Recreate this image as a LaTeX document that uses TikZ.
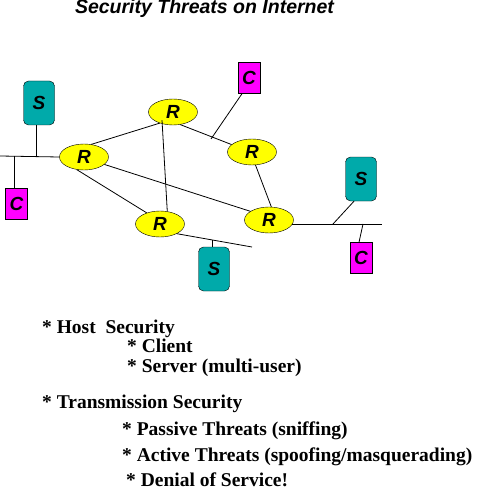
\documentclass[tikz,border=0pt]{standalone}
\usepackage{fontspec}
\setmainfont{Liberation Serif}
\setsansfont{Liberation Sans}
\usetikzlibrary{shapes.geometric}

\definecolor{srvteal}{RGB}{0,170,170}
\definecolor{climag}{RGB}{255,0,255}
\definecolor{rtyellow}{RGB}{255,255,0}

\tikzset{
  lbl/.style={font=\sffamily\bfseries\itshape\fontsize{19}{19}\selectfont},
  router/.style={lbl, draw, fill=rtyellow, ellipse, inner sep=0pt, minimum width=49pt, minimum height=26pt},
  server/.style={lbl, draw, fill=srvteal, rounded corners=5pt, inner sep=0pt, minimum width=31pt, minimum height=44pt},
  client/.style={lbl, draw, fill=climag, inner sep=0pt, minimum width=22pt, minimum height=31pt},
  item/.style={anchor=base west, inner sep=0pt, font=\rmfamily\bfseries\fontsize{19.5}{19.5}\selectfont},
  wire/.style={draw, line width=0.8pt}
}

\begin{document}
\begin{tikzpicture}[x=1pt, y=-1pt]
        \useasboundingbox (0,0) rectangle (476,489);

        % Title
        \node[anchor=base, inner sep=0pt, font=\sffamily\bfseries\itshape\fontsize{19.5}{19.5}\selectfont] (title) at (204.5,14) {Security Threats on Internet};

        % Routers
        \node[router] (r1) at (84,157) {R};
        \node[router] (r2) at (173,112) {R};
        \node[router] (r3) at (252,152) {R};
        \node[router] (r4) at (160,224) {R};
        \node[router] (r5) at (269,220) {R};

        % Servers
        \node[server] (s1) at (39,103) {S};
        \node[server] (s2) at (361,179) {S};
        \node[server] (s3) at (214,269) {S};

        % Clients
        \node[client] (c1) at (16.5,203.5) {C};
        \node[client] (c2) at (249,78) {C};
        \node[client] (c3) at (361,258) {C};

        % Left segment
        \coordinate (lend) at (0,156);
        \coordinate (ls) at (36,156);
        \coordinate (lc) at (14,156);
        \draw[wire] (lend) -- (r1.west);
        \draw[wire] (s1.south -| ls) -- (ls);
        \draw[wire] (lc) -- (c1.north -| lc);

        % Right segment
        \coordinate (rend) at (382,224);
        \coordinate (rs) at (333,224);
        \coordinate (rc) at (363,224);
        \draw[wire] (r5.-12) -- (r5.-12 -| rend);
        \draw[wire] ([xshift=-7pt]s2.south) -- (rs);
        \draw[wire] (rc) -- ([xshift=-2pt]c3.north);

        % Bottom segment
        \coordinate (bend) at (252,247);
        \coordinate (bs) at (212,239.5);
        \draw[wire] (r4.-30) -- (bend);
        \draw[wire] (bs) -- (s3.north -| bs);

        % Links
        \coordinate (tap) at (211,139);
        \draw[wire] (r1.60) -- (r2.-140);
        \draw[wire] (r2.-60) -- (r3.160);
        \draw[wire] (c2.south) ++(-7pt,0) -- (tap);
        \draw[wire] ([shift={(-11pt,5pt)}]r2.south) -- (r4.60);
        \draw[wire] (r1.-120) -- (r4.140);
        \draw[wire] (r1.-20) -- (r5.155);
        \draw[wire] (r3.-75) -- (r5.80);

        % Threat list
        \node[item] (host) at (42,333) {* Host\ \ Security};
        \node[item] (cli) at (127,352.5) {* Client};
        \node[item] (srv) at (127,372) {* Server (multi-user)};
        \node[item] (trans) at (42,408) {* Transmission Security};
        \node[item] (pass) at (122,435) {* Passive Threats (sniffing)};
        \node[item] (act) at (122,461) {* Active Threats (spoofing/masquerading)};
        \node[item] (dos) at (126,486) {* Denial of Service!};
\end{tikzpicture}
\end{document}
